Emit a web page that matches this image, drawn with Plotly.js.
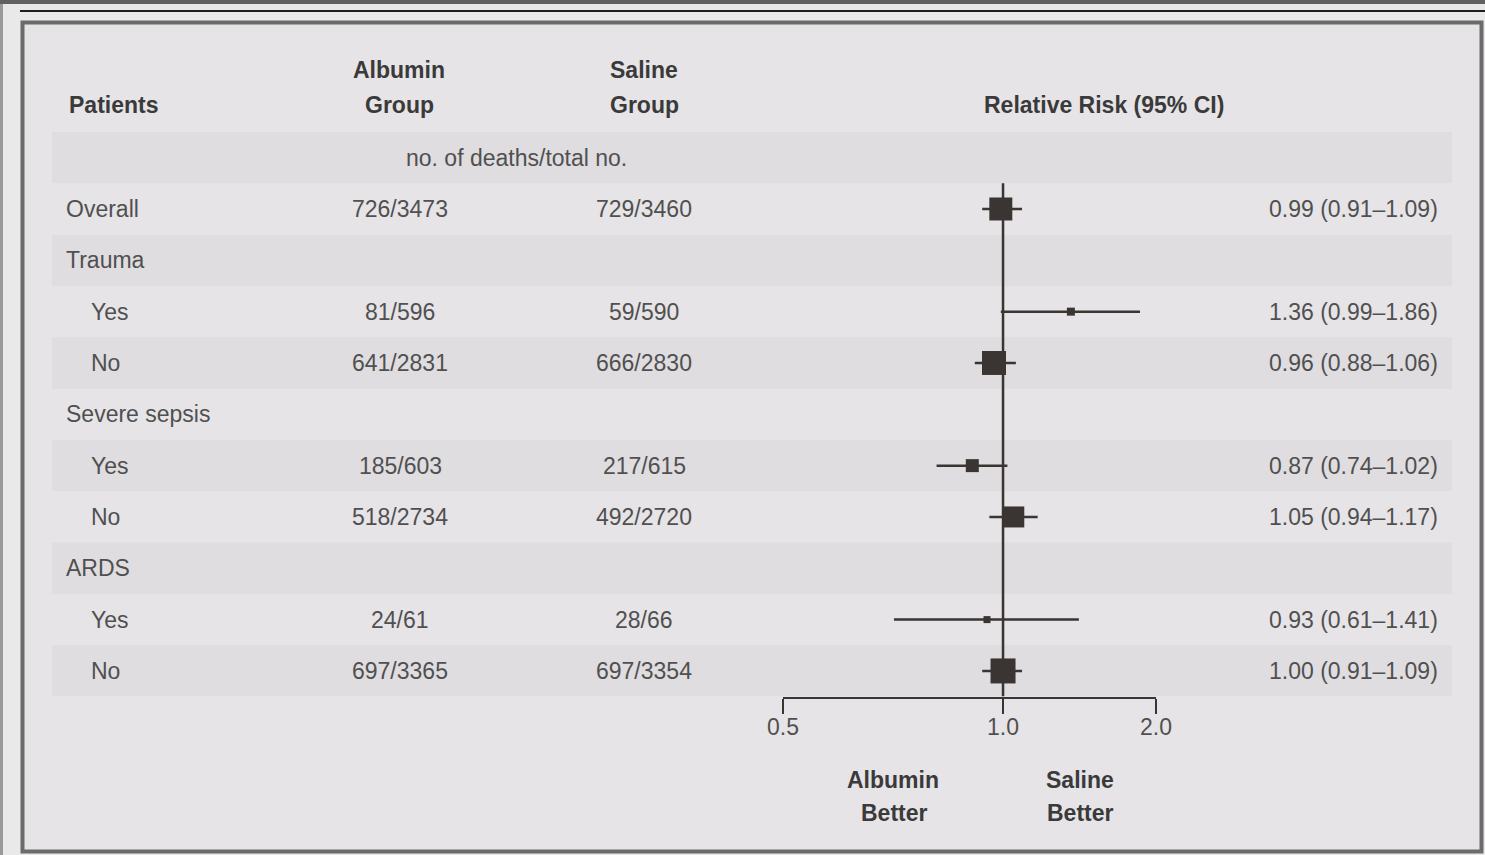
<!DOCTYPE html>
<html>
<head>
<meta charset="utf-8">
<script src="https://cdn.plot.ly/plotly-3.0.1.min.js"></script>
<style>
  html, body { margin: 0; padding: 0; background: #e9e9e9; }
  #chart { width: 1485px; height: 855px; }
</style>
</head>
<body>
<div id="chart"></div>
<script>
// ---------------- DATA ----------------
const rowLabels   = ['Overall', 'Trauma', 'Yes', 'No', 'Severe sepsis', 'Yes', 'No', 'ARDS', 'Yes', 'No'];
const rowIndented = [false, false, true, true, false, true, true, false, true, true];
const albuminGroup = ['726/3473', '', '81/596', '641/2831', '', '185/603', '518/2734', '', '24/61', '697/3365'];
const salineGroup  = ['729/3460', '', '59/590', '666/2830', '', '217/615', '492/2720', '', '28/66', '697/3354'];
const relRisk = [0.99, null, 1.36, 0.96, null, 0.87, 1.05, null, 0.93, 1.00];
const ciLow   = [0.91, null, 0.99, 0.88, null, 0.74, 0.94, null, 0.61, 0.91];
const ciHigh  = [1.09, null, 1.86, 1.06, null, 1.02, 1.17, null, 1.41, 1.09];
const tickLabels = ['0.5', '1.0', '2.0'];
const headerTexts = {
  patients: 'Patients',
  albumin: ['Albumin', 'Group'],
  saline: ['Saline', 'Group'],
  rr: 'Relative Risk (95% CI)',
  units: 'no. of deaths/total no.',
  leftBetter: ['Albumin', 'Better'],
  rightBetter: ['Saline', 'Better']
};

// ---------------- STYLE ----------------
const W = 1485, H = 855;
const FONT = 'Liberation Sans, Arial, sans-serif';
const INK = '#3a3532';
const TXT = '#505050';
const HDR = '#3a3a3a';
const FS = 23;
const markerSizes = [23, 0, 8, 24, 0, 13, 21, 0, 7, 25];
const tickPositions = [0.369, 1, 2];   // where the reference draws its three ticks
const X = px => px / W;
const Y = py => 1 - py / H;

// ---------------- TRACES ----------------
const ciX = [], ciY = [], ptX = [], ptY = [], ptS = [];
rowLabels.forEach((_, i) => {
  if (relRisk[i] !== null) {
    ciX.push(ciLow[i], ciHigh[i], null);
    ciY.push(i, i, null);
    ptX.push(relRisk[i]);
    ptY.push(i);
    ptS.push(markerSizes[i]);
  }
});

const traces = [
  { type: 'scatter', mode: 'lines', x: ciX, y: ciY,
    line: { color: INK, width: 2.5 }, hoverinfo: 'skip', cliponaxis: false },
  { type: 'scatter', mode: 'markers', x: ptX, y: ptY,
    marker: { symbol: 'square', size: ptS, color: INK, opacity: 1, line: { width: 0 } },
    cliponaxis: false }
];

// ---------------- SHAPES ----------------
const shapes = [
  { type: 'rect', xref: 'paper', yref: 'paper', x0: 0, x1: 1, y0: Y(4), y1: 1,
    fillcolor: '#616161', line: { width: 0 }, layer: 'below' },
  { type: 'rect', xref: 'paper', yref: 'paper', x0: 0, x1: X(3), y0: 0, y1: Y(4),
    fillcolor: '#9a9a9a', line: { width: 0 }, layer: 'below' },
  { type: 'line', xref: 'paper', yref: 'paper', x0: X(20), x1: 1, y0: Y(11), y1: Y(11),
    line: { color: '#1e1e1e', width: 2 }, layer: 'below' },
  { type: 'rect', xref: 'paper', yref: 'paper', x0: X(22.5), x1: X(1481.5), y0: Y(851.5), y1: Y(22.5),
    fillcolor: '#e6e4e7', line: { color: '#6b6b6b', width: 4 }, layer: 'below' }
];
[-1, 1, 3, 5, 7, 9].forEach(r => {
  shapes.push({ type: 'rect', xref: 'paper', yref: 'y', x0: X(52), x1: X(1452),
    y0: r - 0.5, y1: r + 0.5, fillcolor: '#dfdde0', line: { width: 0 }, layer: 'below' });
});
shapes.push({ type: 'line', xref: 'x', yref: 'y', x0: 1, x1: 1, y0: -0.5, y1: 9.5,
  line: { color: INK, width: 2.5 }, layer: 'below' });

// ---------------- ANNOTATIONS ----------------
const ann = [];
const regular = { family: FONT, size: FS, color: TXT };
const bold = { family: FONT, size: FS, color: HDR, weight: 'bold' };
function txt(text, x, y, opts) {
  ann.push(Object.assign({
    text, x, y, xref: 'paper', yref: 'paper', showarrow: false,
    xanchor: 'center', yanchor: 'middle', font: regular
  }, opts || {}));
}
txt('<b>' + headerTexts.patients + '</b>', X(67), Y(105), { xanchor: 'left', font: bold });
txt('<b>' + headerTexts.albumin[0] + '</b>', X(399), Y(70), { font: bold });
txt('<b>' + headerTexts.albumin[1] + '</b>', X(399), Y(105), { font: bold });
txt('<b>' + headerTexts.saline[0] + '</b>', X(644), Y(70), { font: bold });
txt('<b>' + headerTexts.saline[1] + '</b>', X(644), Y(105), { font: bold });
txt('<b>' + headerTexts.rr + '</b>', X(1104), Y(105), { font: bold });
txt(headerTexts.units, X(516), Y(158));
txt('<b>' + headerTexts.leftBetter[0] + '</b>', X(893), Y(780), { font: bold });
txt('<b>' + headerTexts.leftBetter[1] + '</b>', X(894), Y(813), { font: bold });
txt('<b>' + headerTexts.rightBetter[0] + '</b>', X(1080), Y(780), { font: bold });
txt('<b>' + headerTexts.rightBetter[1] + '</b>', X(1080), Y(813), { font: bold });

// tick labels, placed at the axis tick positions
tickPositions.forEach((v, k) => {
  ann.push({ text: tickLabels[k], xref: 'x', yref: 'paper', x: Math.log10(v), y: Y(727),
    xanchor: 'center', yanchor: 'middle', showarrow: false, font: regular });
});

rowLabels.forEach((lab, i) => {
  ann.push({ text: lab, xref: 'paper', yref: 'y', x: X(rowIndented[i] ? 89 : 64), y: i,
    xanchor: 'left', yanchor: 'middle', showarrow: false, font: regular });
  if (albuminGroup[i]) {
    ann.push({ text: albuminGroup[i], xref: 'paper', yref: 'y', x: X(400), y: i,
      xanchor: 'center', yanchor: 'middle', showarrow: false, font: regular });
  }
  if (salineGroup[i]) {
    ann.push({ text: salineGroup[i], xref: 'paper', yref: 'y', x: X(644), y: i,
      xanchor: 'center', yanchor: 'middle', showarrow: false, font: regular });
  }
  if (relRisk[i] !== null) {
    const s = relRisk[i].toFixed(2) + ' (' + ciLow[i].toFixed(2) + '\u2013' + ciHigh[i].toFixed(2) + ')';
    ann.push({ text: s, xref: 'paper', yref: 'y', x: X(1440), y: i,
      xanchor: 'right', yanchor: 'middle', showarrow: false, font: regular });
  }
});

// ---------------- LAYOUT ----------------
const rowTop = 132, rowBottom = 696.6;
const layout = {
  width: W, height: H,
  margin: { l: 0, r: 0, t: 0, b: 0, pad: 0 },
  paper_bgcolor: '#e9e9e9',
  plot_bgcolor: 'rgba(0,0,0,0)',
  showlegend: false,
  xaxis: {
    type: 'log',
    domain: [X(783), X(1156)],
    range: [Math.log10(0.369), Math.log10(2)],
    anchor: 'y',
    showline: true, linecolor: INK, linewidth: 2,
    ticks: 'outside', ticklen: 15, tickwidth: 2, tickcolor: INK,
    tickvals: tickPositions, showticklabels: false,
    showgrid: false, zeroline: false, fixedrange: true
  },
  yaxis: {
    domain: [Y(rowBottom), Y(rowTop)],
    range: [9.5, -1.5],
    showticklabels: false, ticks: '', showgrid: false, zeroline: false,
    showline: false, fixedrange: true
  },
  shapes: shapes,
  annotations: ann
};

Plotly.newPlot('chart', traces, layout, { displayModeBar: false, staticPlot: true });
</script>
</body>
</html>
